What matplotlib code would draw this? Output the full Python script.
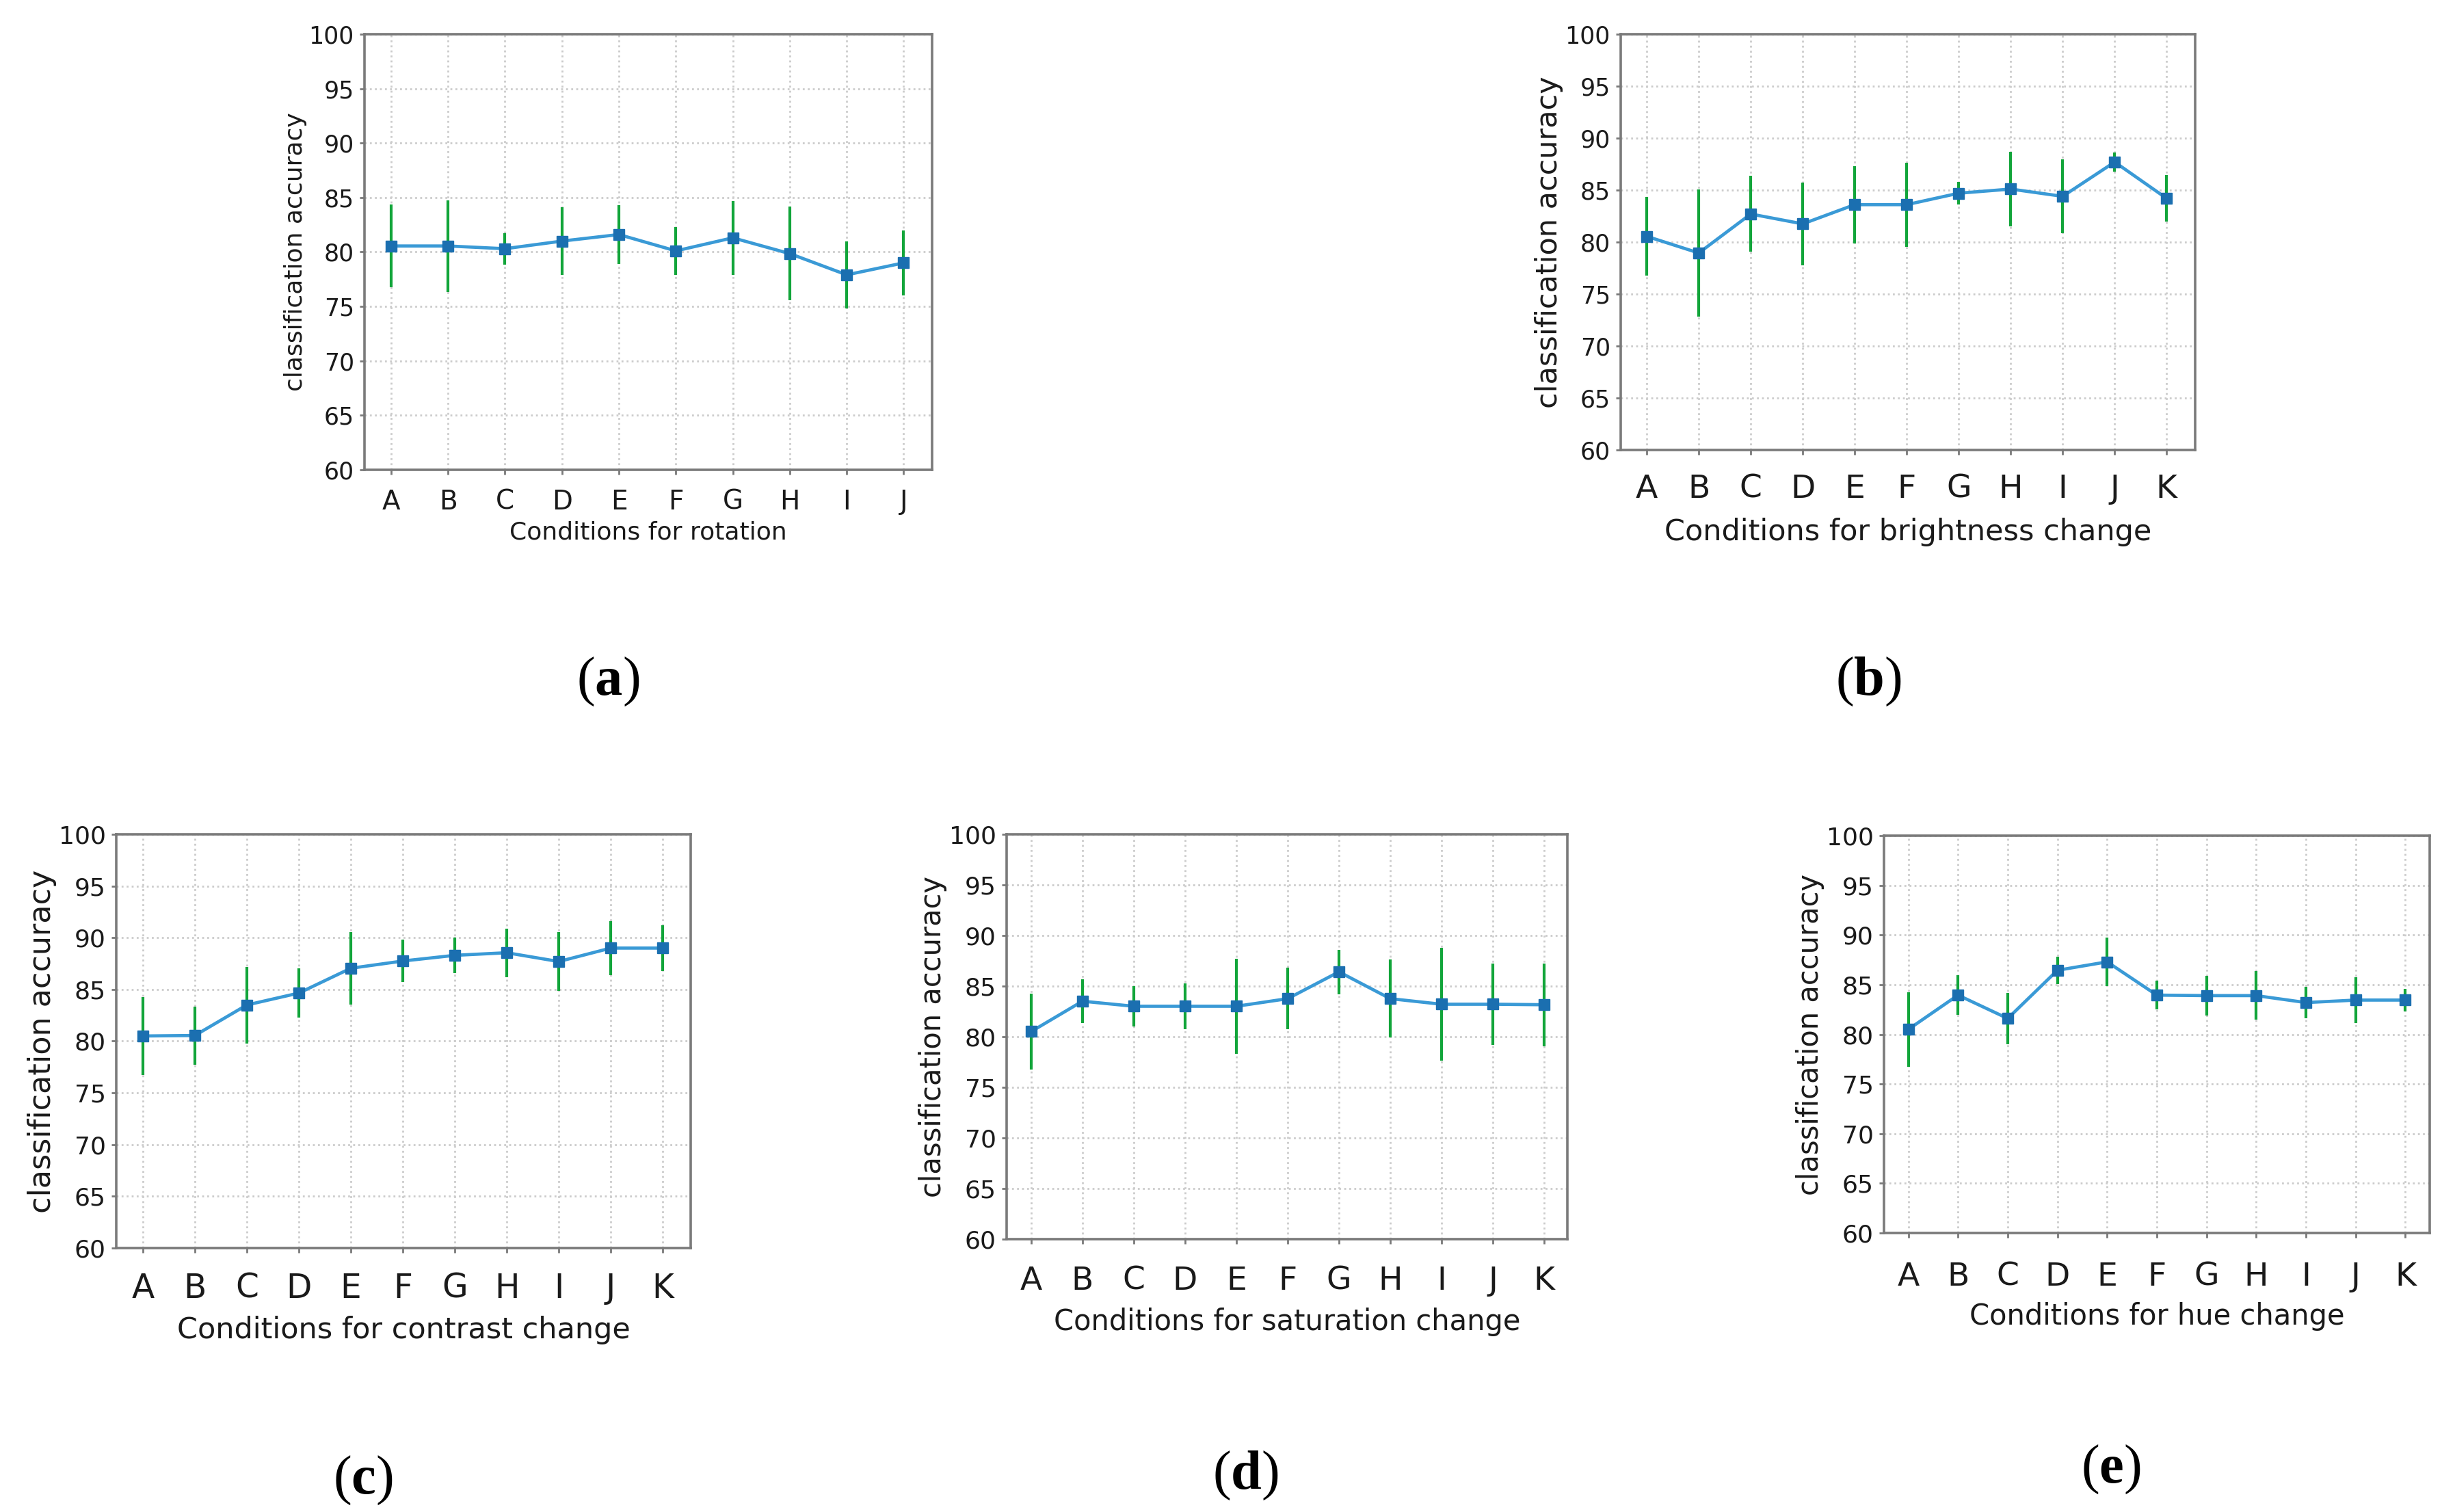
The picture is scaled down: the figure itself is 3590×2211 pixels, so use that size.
import matplotlib.pyplot as plt

plt.rcParams['font.family'] = ['DejaVu Sans']
plt.rcParams['mathtext.fontset'] = 'custom'
plt.rcParams['mathtext.rm'] = 'Liberation Serif'
plt.rcParams['mathtext.bf'] = 'Liberation Serif:bold'

# condition labels
cond_10 = list('ABCDEFGHIJ')
cond_11 = list('ABCDEFGHIJK')

# mean accuracy and error (half length of the green bar)
rotation_acc = [80.55, 80.55, 80.3, 81.0, 81.6, 80.1, 81.3, 79.85, 77.9, 79.0]
rotation_err = [3.8, 4.2, 1.45, 3.1, 2.7, 2.2, 3.4, 4.3, 3.1, 3.0]

brightness_acc = [80.55, 78.95, 82.7, 81.75, 83.6, 83.6, 84.7, 85.1, 84.4, 87.7, 84.2]
brightness_err = [3.8, 6.1, 3.65, 4.0, 3.7, 4.05, 1.1, 3.6, 3.55, 0.9, 2.25]

contrast_acc = [80.5, 80.55, 83.5, 84.65, 87.05, 87.75, 88.3, 88.55, 87.7, 89.0, 89.0]
contrast_err = [3.75, 2.8, 3.7, 2.4, 3.5, 2.05, 1.75, 2.35, 2.85, 2.6, 2.2]

saturation_acc = [80.5, 83.5, 83.0, 83.0, 83.0, 83.75, 86.4, 83.75, 83.2, 83.2, 83.15]
saturation_err = [3.75, 2.15, 2.0, 2.25, 4.7, 3.05, 2.2, 3.85, 5.55, 4.0, 4.1]

hue_acc = [80.5, 83.95, 81.6, 86.45, 87.3, 83.95, 83.9, 83.9, 83.2, 83.45, 83.45]
hue_err = [3.75, 2.0, 2.6, 1.4, 2.45, 1.45, 2.0, 2.45, 1.6, 2.3, 1.15]

LINE_BLUE = '#3a9ad6'
MARK_BLUE = '#1b6fb0'
BAR_GREEN = '#12a53a'
FRAME = '#7a7a7a'
TEXT = '#1a1a1a'


def draw_panel(ax, labels, acc, err, xlabel, xlim, fs_xt, fs_yt, fs_xl, fs_yl, xt_pad, xl_pad):
    x = list(range(len(labels)))
    ax.errorbar(x, acc, yerr=err, fmt='none', ecolor=BAR_GREEN,
                elinewidth=3.0, capsize=0, zorder=3)
    ax.plot(x, acc, '-', color=LINE_BLUE, lw=3.4, zorder=4)
    ax.plot(x, acc, 's', color=MARK_BLUE, ms=12, zorder=5)

    ax.set_xlim(*xlim)
    ax.set_ylim(60, 100)
    ax.set_yticks(range(60, 101, 5))
    ax.set_xticks(x)
    ax.set_xticklabels(labels)
    ax.grid(True, color='#cccccc', ls=':', lw=2.0)
    ax.set_axisbelow(True)

    for s in ax.spines.values():
        s.set_color(FRAME)
        s.set_linewidth(2.6)
    ax.tick_params(axis='x', labelsize=fs_xt, pad=xt_pad, length=5, width=2,
                   color=FRAME, labelcolor=TEXT)
    ax.tick_params(axis='y', labelsize=fs_yt, pad=6, length=5, width=2,
                   color=FRAME, labelcolor=TEXT)
    ax.set_xlabel(xlabel, fontsize=fs_xl, labelpad=xl_pad, color=TEXT)
    ax.set_ylabel('classification accuracy', fontsize=fs_yl, labelpad=2, color=TEXT)


fig = plt.figure(figsize=(35.9, 22.11), dpi=100)

ax_a = fig.add_axes([0.1485, 0.6893, 0.2312, 0.2881])
draw_panel(ax_a, cond_10, rotation_acc, rotation_err, 'Conditions for rotation',
           (-0.465, 9.5), 28, 25, 26, 26, 15, 6)

ax_b = fig.add_axes([0.6602, 0.7024, 0.2340, 0.2750])
draw_panel(ax_b, cond_11, brightness_acc, brightness_err, 'Conditions for brightness change',
           (-0.5, 10.55), 34, 25, 31, 31, 20, 14)

ax_c = fig.add_axes([0.0474, 0.1746, 0.2340, 0.2736])
draw_panel(ax_c, cond_11, contrast_acc, contrast_err, 'Conditions for contrast change',
           (-0.51, 10.54), 35, 26, 31, 32, 20, 12)

ax_d = fig.add_axes([0.4100, 0.1805, 0.2284, 0.2678])
draw_panel(ax_d, cond_11, saturation_acc, saturation_err, 'Conditions for saturation change',
           (-0.48, 10.45), 34, 26, 30, 30, 23, 12)

ax_e = fig.add_axes([0.7674, 0.1845, 0.2223, 0.2628])
draw_panel(ax_e, cond_11, hue_acc, hue_err, 'Conditions for hue change',
           (-0.49, 10.49), 34, 26, 30, 30, 25, 10)

captions = ['a', 'b', 'c', 'd', 'e']
cap_pos = [(889, 996), (2732, 996), (531, 2164), (1821, 2157), (3087, 2148)]
for letter, (px, py) in zip(captions, cap_pos):
    fig.text(px / 3590, 1 - py / 2211, r'$\mathrm{(}\mathbf{' + letter + r'}\mathrm{)}$',
             fontsize=58, ha='center', va='center', color='black')

fig.savefig('out.png', dpi=100, facecolor='white')
